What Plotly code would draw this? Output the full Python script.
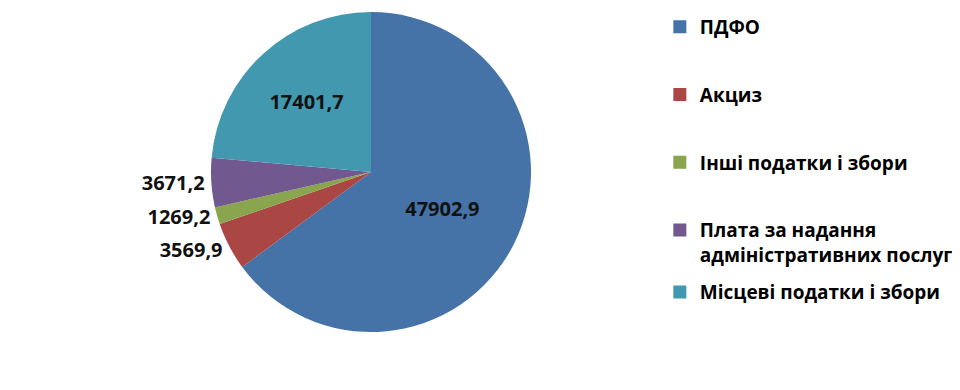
import plotly.graph_objects as go

categories = ["ПДФО", "Акциз", "Інші податки і збори",
              "Плата за надання<br>адміністративних послуг", "Місцеві податки і збори"]
values = [47902.9, 3569.9, 1269.2, 3671.2, 17401.7]
colors = ["#4572A7", "#AA4643", "#89A54E", "#71588F", "#4198AF"]
text_positions = ["inside", "outside", "outside", "outside", "inside"]

W, H = 960, 390
cx, cy, r = 363, 164, 160
FONT = "Open Sans"

fig = go.Figure(go.Pie(
    labels=categories,
    values=values,
    sort=False,
    direction="clockwise",
    rotation=0,
    marker=dict(colors=colors, line=dict(width=0)),
    texttemplate="%{value:.1f}",
    textposition=text_positions,
    insidetextorientation="horizontal",
    textfont=dict(family=FONT, size=20, color="#111111", weight="bold"),
    insidetextfont=dict(family=FONT, size=20, color="#111111", weight="bold"),
    outsidetextfont=dict(family=FONT, size=20, color="#111111", weight="bold"),
    domain=dict(x=[(cx - r) / W, (cx + r) / W], y=[(H - cy - r) / H, (H - cy + r) / H]),
    hoverinfo="label+value",
    showlegend=False,
))

# legend entries (dummy traces so each entry can be spaced like the original)
for i, (name, col) in enumerate(zip(categories, colors)):
    fig.add_trace(go.Scatter(
        x=[None], y=[None], mode="markers", name=name,
        marker=dict(symbol="square", size=13, color=col),
        legendgroup=f"g{i}",
        legend="legend" if i < 4 else "legend2",
        hoverinfo="skip",
    ))

legend_font = dict(family=FONT, size=19, color="#000000", weight="bold")
fig.update_layout(
    width=W, height=H,
    margin=dict(l=0, r=0, t=0, b=0),
    paper_bgcolor="white",
    plot_bgcolor="white",
    separators=", ",
    font=dict(family=FONT, color="#000000"),
    xaxis=dict(visible=False),
    yaxis=dict(visible=False),
    legend=dict(
        x=0.679, y=1.0, xanchor="left", yanchor="top",
        font=legend_font, itemwidth=30, tracegroupgap=40,
        valign="top",
        bgcolor="rgba(0,0,0,0)",
    ),
    legend2=dict(
        x=0.679, y=0.32, xanchor="left", yanchor="top",
        font=legend_font, itemwidth=30,
        bgcolor="rgba(0,0,0,0)",
    ),
)

fig.write_html("out.html")
